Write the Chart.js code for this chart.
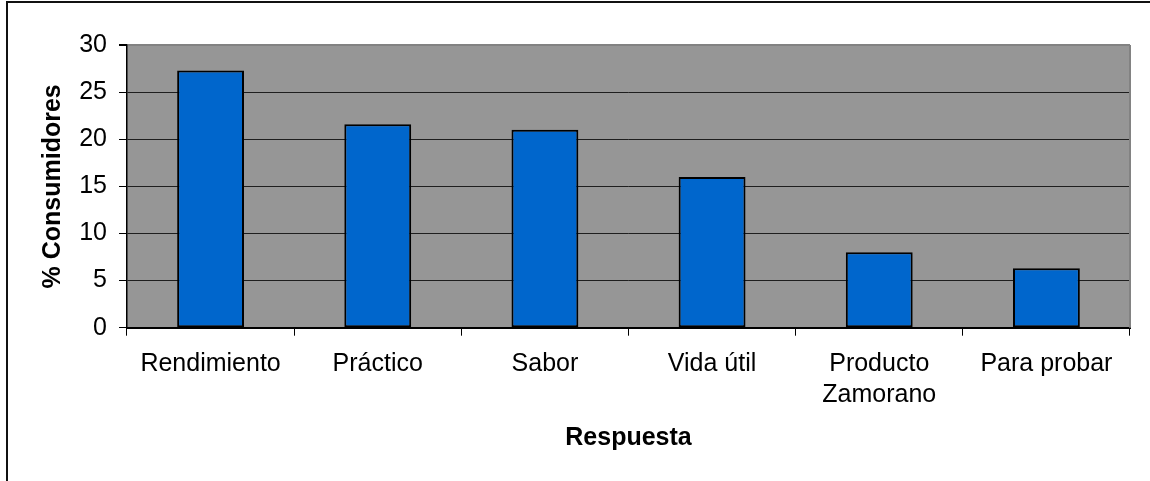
<!DOCTYPE html>
<html>
<head>
<meta charset="utf-8">
<script src="https://cdn.jsdelivr.net/npm/chart.js@4"></script>
<style>
  html, body { margin: 0; padding: 0; background: #fff; overflow: hidden; }
  #wrap { position: relative; width: 1150px; height: 481px; overflow: hidden; }
  #frame {
    position: absolute; left: 6px; top: 1px; width: 2000px; height: 2000px;
    border-left: 2px solid #111; border-top: 2px solid #111;
  }
  canvas { position: absolute; left: 0; top: 0; }
</style>
</head>
<body>
<div id="wrap">
  <div id="frame"></div>
  <canvas id="respuesta" width="1150" height="481"></canvas>
</div>
<script>
const categories = ["Rendimiento", "Práctico", "Sabor", "Vida útil", ["Producto", "Zamorano"], "Para probar"];
const consumidores = [27.3, 21.6, 21.0, 16.0, 8.0, 6.3];
const yTicks = [0, 5, 10, 15, 20, 25, 30];

const FONT = "'Liberation Sans', Arial, Helvetica, sans-serif";

// Gray plot background plus the lighter right edge
const plotArea = {
  id: "plotArea",
  beforeDraw: (chart) => {
    const { ctx, chartArea: a } = chart;
    ctx.save();
    ctx.fillStyle = "#969696";
    ctx.fillRect(a.left, a.top, a.right - a.left, a.bottom - a.top);
    ctx.restore();
  },
  afterDatasetsDraw: (chart) => {
    const { ctx, chartArea: a } = chart;
    ctx.save();
    ctx.strokeStyle = "#828282";
    ctx.lineWidth = 2;
    ctx.beginPath();
    ctx.moveTo(a.right, a.top);
    ctx.lineTo(a.right, a.bottom);
    ctx.stroke();
    ctx.restore();
  },
};

const ctx = document.getElementById("respuesta").getContext("2d");

new Chart(ctx, {
  type: "bar",
  data: {
    labels: categories,
    datasets: [
      {
        label: "% Consumidores",
        data: consumidores,
        backgroundColor: "#0066CC",
        borderColor: "#000000",
        borderWidth: 2,
        borderSkipped: false,
        categoryPercentage: 1.0,
        barPercentage: 0.4,
      },
    ],
  },
  options: {
    responsive: false,
    animation: false,
    devicePixelRatio: 1,
    layout: { padding: { top: 45, right: 20, left: 0, bottom: 0 } },
    plugins: {
      legend: { display: false },
      tooltip: { enabled: false },
    },
    scales: {
      x: {
        offset: true,
        afterFit: (scale) => { scale.height = 153.3; },
        grid: {
          offset: true,
          drawOnChartArea: false,
          drawTicks: true,
          tickLength: 8,
          tickColor: "#000",
        },
        border: { color: "#000", width: 2 },
        ticks: {
          color: "#000",
          padding: 13,
          maxRotation: 0,
          autoSkip: false,
          font: { family: FONT, size: 25, lineHeight: 1.23 },
        },
        title: {
          display: true,
          text: "Respuesta",
          color: "#000",
          font: { family: FONT, size: 25, weight: "bold", lineHeight: 1.2 },
          padding: { top: 0, bottom: 27.7 },
        },
      },
      y: {
        min: 0,
        max: 30,
        afterFit: (scale) => { scale.width = 127; },
        afterBuildTicks: (scale) => {
          scale.ticks = yTicks.map((v) => ({ value: v }));
        },
        grid: {
          color: (c) => (c.tick && c.tick.value === 30 ? "#828282" : "#1e1e1e"),
          lineWidth: (c) => (c.tick && c.tick.value === 30 ? 2 : 1),
          drawTicks: true,
          tickLength: 8,
          tickColor: "#000",
        },
        border: { color: "#000", width: 1.5 },
        ticks: {
          color: "#000",
          padding: 12,
          font: { family: FONT, size: 25 },
        },
        title: {
          display: true,
          text: "% Consumidores",
          color: "#000",
          font: { family: FONT, size: 25, weight: "bold", lineHeight: 1.2 },
          padding: { top: 38, bottom: 0 },
        },
      },
    },
  },
  plugins: [plotArea],
});
</script>
</body>
</html>
